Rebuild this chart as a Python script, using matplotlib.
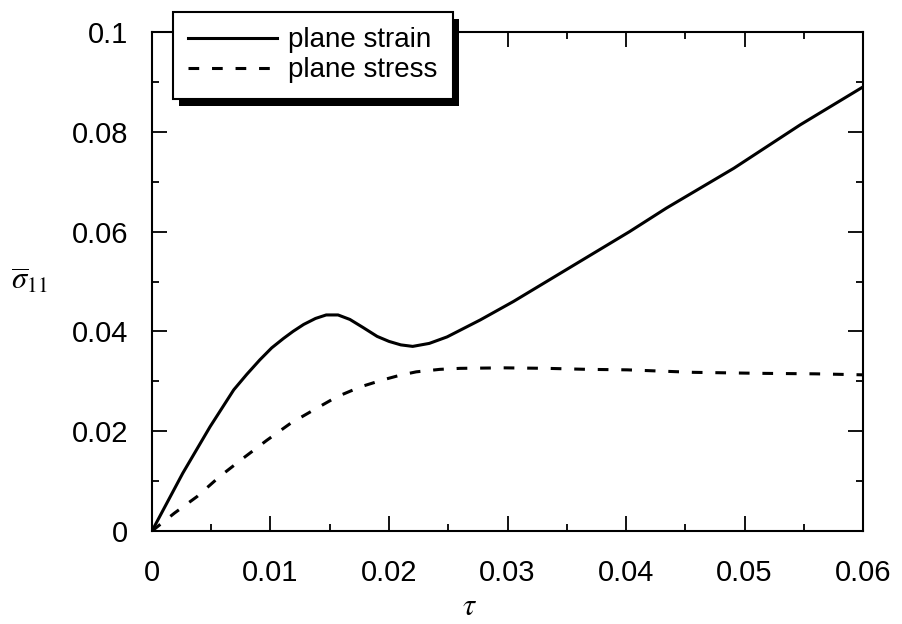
import matplotlib
matplotlib.use("Agg")
import matplotlib.pyplot as plt
from matplotlib.patches import Rectangle
from matplotlib.ticker import MultipleLocator

plt.rcParams['font.family'] = ['Liberation Sans', 'DejaVu Sans']
plt.rcParams['mathtext.fontset'] = 'stix'

# plane strain (solid)
tau_strain = [0, 0.0026, 0.0049, 0.0069, 0.0080, 0.0091, 0.0101, 0.0111, 0.0119,
              0.0128, 0.0138, 0.0147, 0.0157, 0.0167, 0.0178, 0.0190, 0.0200,
              0.0210, 0.0220, 0.0234, 0.0249, 0.0277, 0.0305, 0.0333, 0.0361,
              0.0403, 0.0434, 0.0491, 0.0547, 0.0600]
sig_strain = [0, 0.0116, 0.0209, 0.0283, 0.0314, 0.0343, 0.0367, 0.0386, 0.0400,
              0.0414, 0.0426, 0.0433, 0.0433, 0.0424, 0.0408, 0.0390, 0.0380,
              0.0373, 0.0370, 0.0376, 0.0389, 0.0423, 0.0460, 0.0500, 0.0540,
              0.0600, 0.0647, 0.0727, 0.0814, 0.0890]

# plane stress (dashed)
tau_stress = [0, 0.0019, 0.0038, 0.0057, 0.0077, 0.0097, 0.0117, 0.0136, 0.0156,
              0.0176, 0.0195, 0.0209, 0.0223, 0.0243, 0.0260, 0.0297, 0.0333,
              0.0367, 0.0401, 0.0457, 0.0513, 0.0560, 0.0600]
sig_stress = [0, 0.0036, 0.0069, 0.0109, 0.0146, 0.0182, 0.0216, 0.0242, 0.0269,
              0.0289, 0.0303, 0.0312, 0.0319, 0.0324, 0.0326, 0.0327, 0.0326,
              0.0324, 0.0323, 0.0318, 0.0316, 0.0315, 0.0313]

xticks = [0, 0.01, 0.02, 0.03, 0.04, 0.05, 0.06]
xlabels = ['0', '0.01', '0.02', '0.03', '0.04', '0.05', '0.06']
yticks = [0, 0.02, 0.04, 0.06, 0.08, 0.1]
ylabels = ['0', '0.02', '0.04', '0.06', '0.08', '0.1']

fig = plt.figure(figsize=(9.02, 6.24), dpi=100)
ax = fig.add_axes([0.1685, 0.149, 0.7883, 0.7997])

ax.plot(tau_strain, sig_strain, color='black', lw=2.2, label='plane strain')
ax.plot(tau_stress, sig_stress, color='black', lw=2.2, dashes=(3.5, 4.2),
        label='plane stress')

ax.set_xlim(0, 0.06)
ax.set_ylim(0, 0.1)
ax.set_xticks(xticks)
ax.set_xticklabels(xlabels)
ax.set_yticks(yticks)
ax.set_yticklabels(ylabels)
ax.xaxis.set_minor_locator(MultipleLocator(0.005))
ax.yaxis.set_minor_locator(MultipleLocator(0.01))
ax.tick_params(which='both', direction='in', top=True, right=True, width=1.3,
               labelsize=21, colors='black')
ax.tick_params(which='major', length=11)
ax.tick_params(which='minor', length=5)
ax.tick_params(axis='x', pad=20)
ax.tick_params(axis='y', pad=17)
for s in ax.spines.values():
    s.set_linewidth(1.5)

ax.set_xlabel(r'$\tau$', fontsize=22)
ax.xaxis.set_label_coords(0.447, -0.152)
ax.xaxis.label.set_va('center')
ax.set_ylabel(r'$\overline{\sigma}_{11}$', fontsize=22, rotation=0)
ax.yaxis.set_label_coords(-0.173, 0.501)
ax.yaxis.label.set_va('center')
ax.yaxis.label.set_ha('center')

leg = ax.legend(loc='upper left', bbox_to_anchor=(173 / 902, 1 - 12 / 624),
                bbox_transform=fig.transFigure, fontsize=20, frameon=True,
                fancybox=False, framealpha=1, edgecolor='black',
                handlelength=3.2, handletextpad=0.4, borderpad=0.55,
                labelspacing=0.15, borderaxespad=0)
leg.get_frame().set_linewidth(1.5)
leg.set_zorder(5)

fig.canvas.draw()
bb = leg.get_frame().get_window_extent().transformed(fig.transFigure.inverted())
off_x, off_y = 6 / 902, 7 / 624
shadow = Rectangle((bb.x0 + off_x, bb.y0 - off_y), bb.width, bb.height,
                   transform=fig.transFigure, facecolor='black', edgecolor='none',
                   clip_on=False, zorder=4.9)
ax.add_artist(shadow)

fig.savefig('out.png', dpi=100)
